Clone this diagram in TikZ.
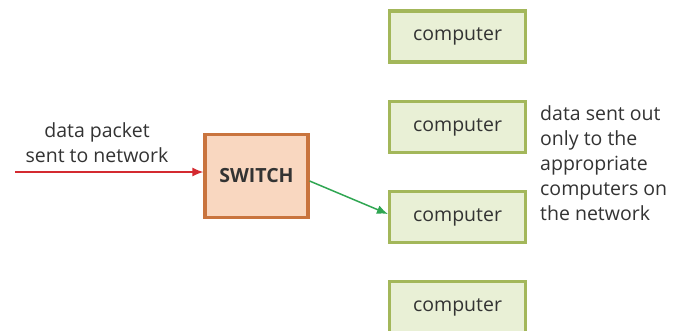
\documentclass[tikz,border=0pt]{standalone}
\usepackage{fontspec}
\setmainfont{Open Sans}
\usetikzlibrary{arrows.meta}
\definecolor{swfill}{HTML}{F9D7C0}
\definecolor{swdraw}{HTML}{C9743E}
\definecolor{cfill}{HTML}{E9F0D6}
\definecolor{cdraw}{HTML}{A3B75A}
\definecolor{redarrow}{HTML}{D42A30}
\definecolor{greenarrow}{HTML}{2FA652}
\definecolor{txt}{HTML}{333333}
\begin{document}
\begin{tikzpicture}[x=1pt,y=-1pt,
  comp/.style={draw=cdraw,fill=cfill,line width=3.2pt,minimum width=136pt,minimum height=51pt,inner sep=0pt,font=\fontsize{19.5}{24}\selectfont,text=txt},
  sw/.style={draw=swdraw,fill=swfill,line width=3.2pt,minimum width=103pt,minimum height=83pt,inner sep=0pt,font=\fontsize{19.5}{24}\selectfont\bfseries,text=txt},
  lbl/.style={font=\fontsize{19.5}{25}\selectfont,text=txt,inner sep=0pt}]
\useasboundingbox (0,0) rectangle (684,330);
\node[sw] (switch) at (256.5,176) {SWITCH};
\node[comp] (c1) at (457.5,36.5) {computer};
\node[comp] (c2) at (457.5,127) {computer};
\node[comp] (c3) at (457.5,217) {computer};
\node[comp] (c4) at (457.5,307) {computer};
\coordinate (start) at (15,172);
\node[lbl,align=center] (inlbl) at (97,143) {data packet\\sent to network};
\node[lbl,align=left,anchor=north west] (outlbl) at (540,105) {data sent out\\only to the\\appropriate\\computers on\\the network};
\draw[redarrow,line width=1.5pt,-{Latex[length=11pt,width=9pt]}] (start) -- (switch.west |- start);
\draw[greenarrow,line width=1.5pt,-{Latex[length=11pt,width=9pt]}] (switch.east |- 0,181) -- (c3.west |- 0,214);
\end{tikzpicture}
\end{document}
